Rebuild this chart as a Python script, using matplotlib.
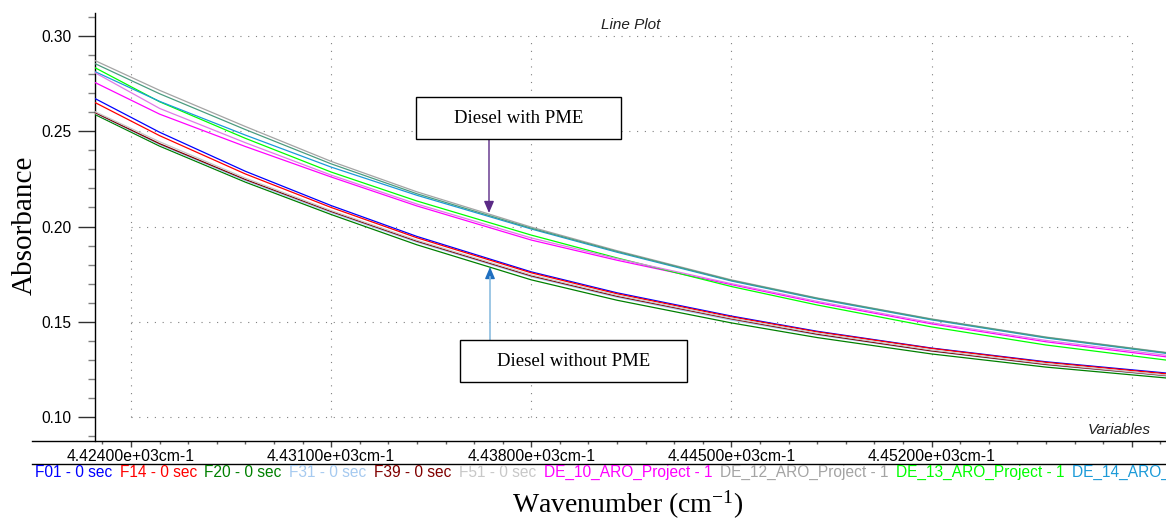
import matplotlib
matplotlib.use("Agg")
import matplotlib.pyplot as plt
from matplotlib.lines import Line2D
from matplotlib.patches import Rectangle
from matplotlib.ticker import MultipleLocator, FixedLocator

# ---------------- data ----------------
wavenumber = [4422.7, 4425.0, 4428.0, 4431.0, 4434.0, 4438.0,
              4441.0, 4445.0, 4448.0, 4452.0, 4456.0, 4460.2]

series_names = ["F01 - 0 sec", "F14 - 0 sec", "F20 - 0 sec", "F31 - 0 sec",
                "F39 - 0 sec", "F51 - 0 sec", "DE_10_ARO_Project - 1",
                "DE_12_ARO_Project - 1", "DE_13_ARO_Project - 1",
                "DE_14_ARO_Project - 1", "DE_15_ARO_Project - 1",
                "DE_16_ARO_Project - 1"]

F01 = [0.2675, 0.2495, 0.2290, 0.2110, 0.1948, 0.1762, 0.1652, 0.1530, 0.1450, 0.1362, 0.1290, 0.1231]
F14 = [0.2654, 0.2477, 0.2276, 0.2100, 0.1941, 0.1757, 0.1647, 0.1526, 0.1447, 0.1360, 0.1287, 0.1227]
F20 = [0.2591, 0.2422, 0.2233, 0.2063, 0.1904, 0.1720, 0.1613, 0.1494, 0.1417, 0.1331, 0.1262, 0.1205]
F31 = [0.2598, 0.2430, 0.2241, 0.2073, 0.1918, 0.1736, 0.1629, 0.1509, 0.1431, 0.1345, 0.1274, 0.1215]
F39 = [0.2601, 0.2435, 0.2247, 0.2079, 0.1923, 0.1741, 0.1634, 0.1515, 0.1435, 0.1347, 0.1276, 0.1218]
F51 = [0.2606, 0.2445, 0.2254, 0.2084, 0.1928, 0.1746, 0.1639, 0.1519, 0.1440, 0.1352, 0.1280, 0.1220]
DE_10 = [0.2759, 0.2590, 0.2420, 0.2260, 0.2108, 0.1929, 0.1823, 0.1695, 0.1601, 0.1489, 0.1395, 0.1316]
DE_12 = [0.2874, 0.2715, 0.2525, 0.2342, 0.2182, 0.1997, 0.1873, 0.1720, 0.1625, 0.1515, 0.1420, 0.1339]
DE_13 = [0.2837, 0.2655, 0.2463, 0.2286, 0.2134, 0.1955, 0.1835, 0.1685, 0.1588, 0.1473, 0.1378, 0.1299]
DE_14 = [0.2816, 0.2657, 0.2480, 0.2312, 0.2164, 0.1987, 0.1865, 0.1714, 0.1620, 0.1510, 0.1415, 0.1334]
DE_15 = [0.2858, 0.2697, 0.2509, 0.2329, 0.2172, 0.1991, 0.1869, 0.1717, 0.1623, 0.1513, 0.1418, 0.1337]
DE_16 = [0.2811, 0.2620, 0.2440, 0.2270, 0.2118, 0.1940, 0.1831, 0.1700, 0.1607, 0.1495, 0.1402, 0.1324]

series_values = [F01, F14, F20, F31, F39, F51, DE_10, DE_12, DE_13, DE_14, DE_15, DE_16]
series_colors = ["#0000ff", "#ff0000", "#008000", "#a6caf0", "#800000", "#c8c8c8",
                 "#ff00ff", "#a4a4a4", "#00ff00", "#1b9ad8", "#4a9c80", "#e07ae8"]

y_ticks = [0.10, 0.15, 0.20, 0.25, 0.30]
x_ticks = [4424, 4431, 4438, 4445, 4452, 4459]
x_tick_labels = ["4.42400e+03cm-1", "4.43100e+03cm-1", "4.43800e+03cm-1",
                 "4.44500e+03cm-1", "4.45200e+03cm-1", ""]

# ---------------- figure ----------------
W, H = 1166, 521
fig = plt.figure(figsize=(W / 100, H / 100), dpi=100)

def fx(px):
    return px / W

def fy(py):
    return 1 - py / H

ax = fig.add_axes([fx(95), fy(441), fx(1166) - fx(95), fy(13) - fy(441)])
ax.set_xlim(4422.74, 4460.2)
ax.set_ylim(0.0874, 0.3121)

for vals, col in zip(series_values, series_colors):
    ax.plot(wavenumber, vals, color=col, lw=0.9, solid_joinstyle="round", zorder=3)

# dotted grid box
grid_kw = dict(color="#808080", lw=0.8, linestyle=(0, (1, 6)), zorder=1)
ax.hlines(y_ticks, x_ticks[0], x_ticks[-1], **grid_kw)
ax.vlines(x_ticks, y_ticks[0], y_ticks[-1], **grid_kw)

# spines
for s in ["top", "right", "bottom"]:
    ax.spines[s].set_visible(False)
ax.spines["left"].set_color("black")
ax.spines["left"].set_linewidth(1.0)

# ticks
ax.yaxis.set_major_locator(FixedLocator(y_ticks))
ax.yaxis.set_minor_locator(MultipleLocator(0.01))
ax.set_yticklabels(["%.2f" % v for v in y_ticks])
ax.tick_params(axis="y", which="major", length=12.2, width=1.0, color="#303030",
               pad=5, labelsize=11.2)
ax.tick_params(axis="y", which="minor", length=5, width=1.0, color="#808080")
ax.xaxis.set_major_locator(FixedLocator(x_ticks))
ax.xaxis.set_minor_locator(MultipleLocator(1))
ax.set_xticklabels(x_tick_labels)
ax.tick_params(axis="x", which="major", length=4.3, width=1.0, color="#404040",
               pad=1.5, labelsize=11.3)
ax.tick_params(axis="x", which="minor", length=2.2, width=1.0, color="#606060")
for lab in ax.get_xticklabels() + ax.get_yticklabels():
    lab.set_fontfamily("Liberation Sans")

# x-axis line and separator line (figure-level)
fig.add_artist(Line2D([fx(32), fx(1166)], [fy(441), fy(441)], color="black", lw=1.0))
fig.add_artist(Line2D([fx(32), fx(1166)], [fy(463.5), fy(463.5)], color="black", lw=1.0))

# plot captions
fig.text(fx(631), fy(25), "Line Plot", fontsize=11, style="italic",
         family="Liberation Sans", ha="center", va="center", color="#202020")
fig.text(fx(1119), fy(430), "Variables", fontsize=11, style="italic",
         family="Liberation Sans", ha="center", va="center", color="#202020")

# axis titles
fig.text(fx(25), fy(225), "Absorbance", fontsize=21, family="Liberation Serif",
         rotation=90, ha="center", va="center")
plt.rcParams["mathtext.fontset"] = "custom"
plt.rcParams["mathtext.rm"] = "Liberation Serif"
plt.rcParams["mathtext.it"] = "Liberation Serif:italic"
fig.text(fx(628), fy(505), "Wavenumber (cm$^{\\mathrm{-1}}$)", fontsize=20,
         family="Liberation Serif", ha="center", va="center")

# legend row (runs off the right edge, as in the original)
fig.canvas.draw()
renderer = fig.canvas.get_renderer()
xpos = 35
for name, col in zip(series_names, series_colors):
    if xpos >= W:
        break
    t = fig.text(fx(xpos), fy(477), name, fontsize=11.2, family="Liberation Sans",
                 color=col, ha="left", va="baseline")
    bb = t.get_window_extent(renderer)
    xpos = bb.x1 + 7.5

# annotation boxes
def box(x0, y0, x1, y1, label):
    fig.add_artist(Rectangle((fx(x0), fy(y1)), fx(x1) - fx(x0), fy(y0) - fy(y1),
                             transform=fig.transFigure, fill=True, facecolor="white",
                             edgecolor="black", lw=1.0, zorder=5))
    fig.text(fx((x0 + x1) / 2), fy((y0 + y1) / 2), label, fontsize=13.5,
             family="Liberation Serif", ha="center", va="center", zorder=6)

box(416, 97, 621, 139, "Diesel with PME")
box(460, 340, 687, 382, "Diesel without PME")

# arrows (figure coords)
ax.annotate("", xy=(fx(489), fy(213)), xycoords="figure fraction",
            xytext=(fx(489), fy(139)), textcoords="figure fraction",
            arrowprops=dict(arrowstyle="-|>,head_length=0.7,head_width=0.3",
                            color="#5b2a86", lw=1.0, shrinkA=0, shrinkB=0), zorder=6)
fig.add_artist(Line2D([fx(490), fx(490)], [fy(340), fy(277)], color="#8cbde0", lw=1.2))
ax.annotate("", xy=(fx(490), fy(267)), xycoords="figure fraction",
            xytext=(fx(490), fy(279)), textcoords="figure fraction",
            arrowprops=dict(arrowstyle="-|>,head_length=0.7,head_width=0.3",
                            color="#1f6fc0", lw=1.0, shrinkA=0, shrinkB=0), zorder=6)

fig.savefig("out.png", dpi=100)
